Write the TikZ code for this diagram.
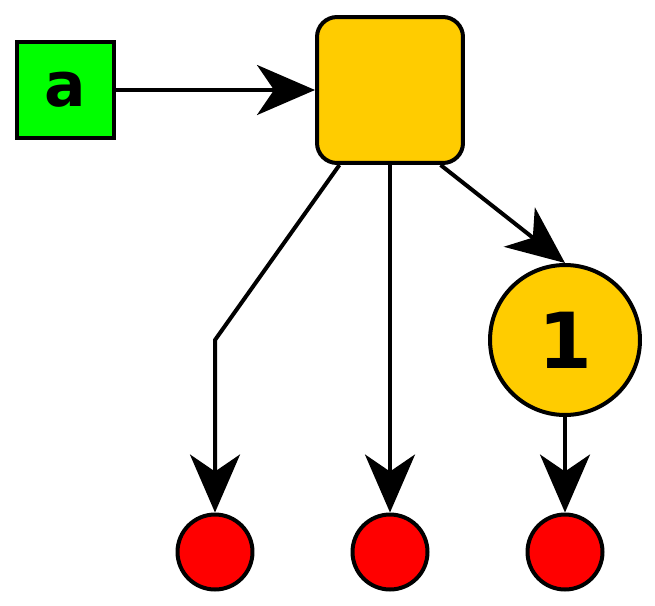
\documentclass[tikz,border=0pt]{standalone}
\usepackage{fontspec}
\setmainfont{DejaVu Sans}
\usetikzlibrary{arrows.meta, positioning}

\begin{document}
\begin{tikzpicture}[
    x=0.02cm, y=-0.02cm,
    every node/.style={line width=0.08cm, draw=black, inner sep=0pt},
    input/.style={rectangle, minimum size=1.94cm, fill=green!100, font=\fontsize{35}{40}\selectfont\bfseries},
    hub/.style={rectangle, rounded corners=0.4cm, minimum size=2.92cm, fill=hubyellow},
    counter/.style={circle, minimum size=3cm, fill=hubyellow, font=\fontsize{44}{50}\selectfont\bfseries},
    leaf/.style={circle, minimum size=1.5cm, fill=red},
    arrow/.style={-{Stealth[length=1.16cm, width=1cm, inset=0.34cm]}, line width=0.08cm}]
    \definecolor{hubyellow}{RGB}{255,204,0}

    \useasboundingbox (0,0) rectangle (655,605);

    % Input and hub (top)
    \node[input] (a) at (65.5,90) {a};
    \node[hub] (hub) at (390,90) {};

    % Counter (right)
    \node[counter] (one) at (565,340) {1};

    % Leaves (bottom)
    \node[leaf] (leafL) at (215,552) {};
    \node[leaf] (leafM) at (390,552) {};
    \node[leaf] (leafR) at (565,552) {};
    \coordinate (bend) at (215,340);

    % Connections
    \draw[arrow] (a) -- (hub);
    \draw[arrow] (hub.304) -- (one.north);
    \draw[arrow] (hub) -- (leafM);
    \draw[arrow] (hub.236) -- (bend) -- (leafL.north);
    \draw[arrow] (one) -- (leafR);

\end{tikzpicture}
\end{document}
